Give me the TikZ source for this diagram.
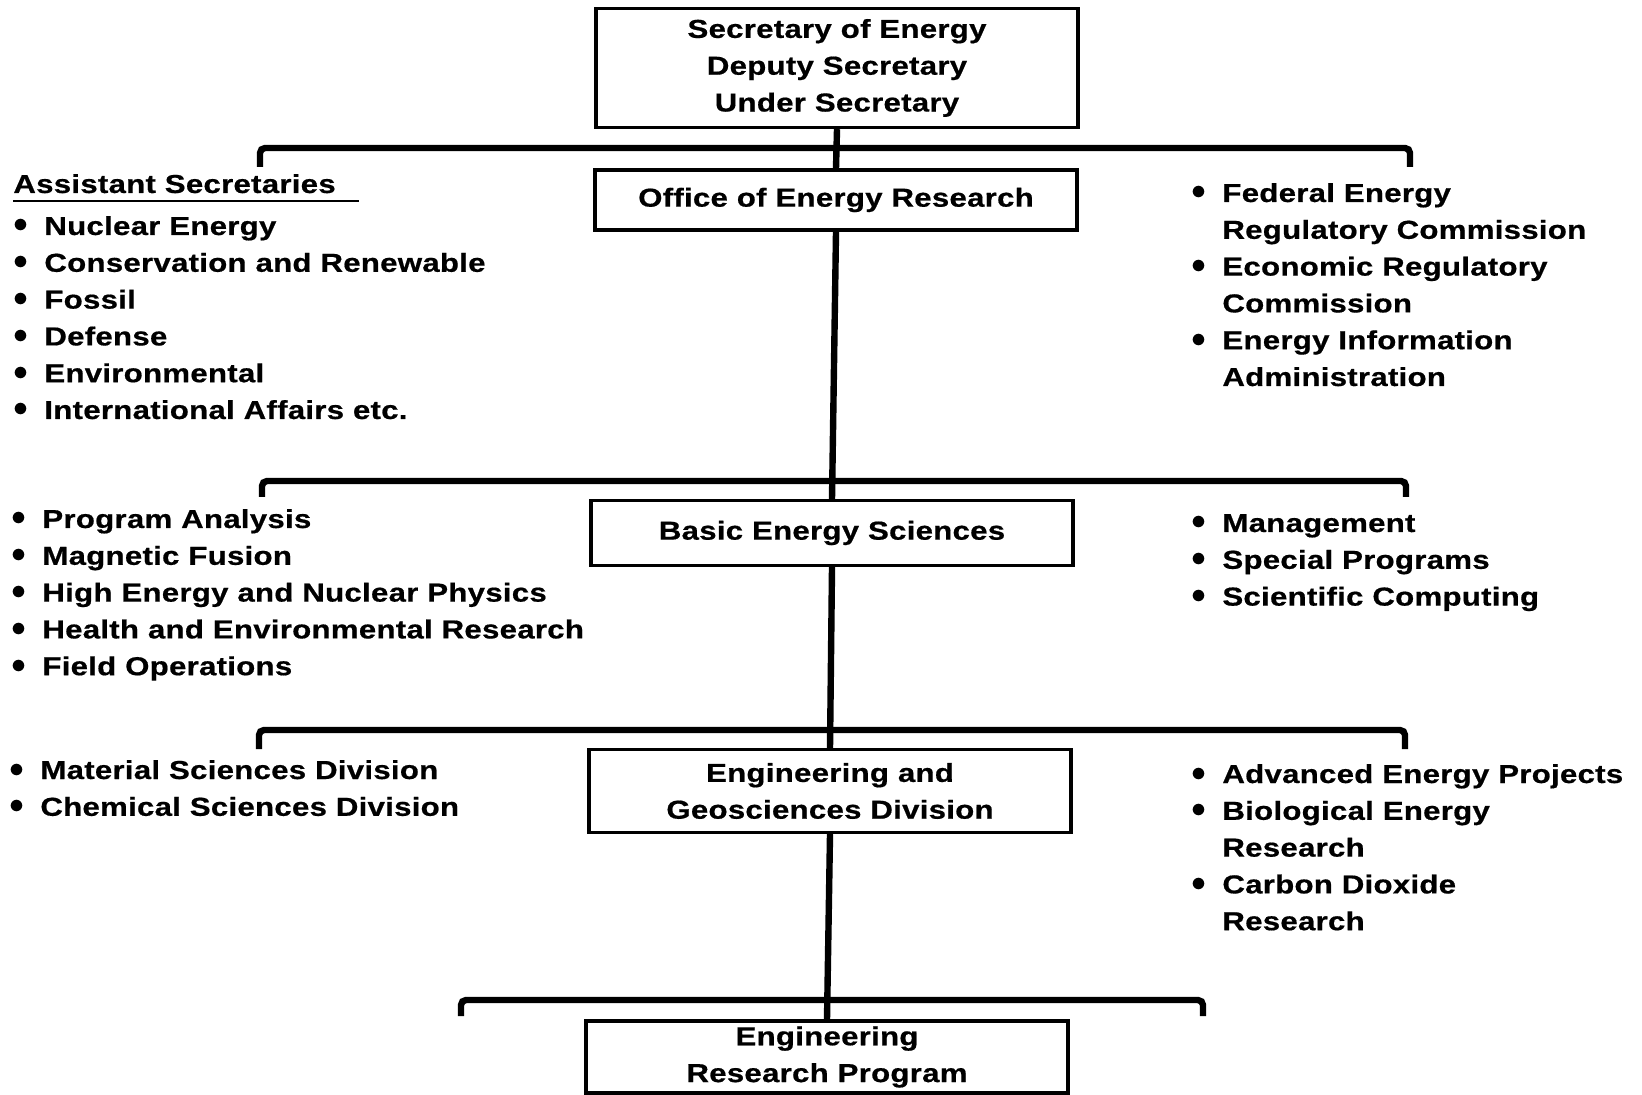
\documentclass[tikz,border=0pt]{standalone}
\usepackage{fontspec}
\setmainfont{Liberation Sans}[FakeStretch=1.2,LetterSpace=1,FakeBold=0.6]
\usepackage{tikz}
\usetikzlibrary{positioning}

% bullet and the indent of a wrapped line
\newcommand{\blt}{\makebox[15.5pt][l]{\raisebox{1pt}{\scalebox{1.25}{$\bullet$}}}}
\newcommand{\bltskip}{\hspace*{15.5pt}}

\begin{document}
\begin{tikzpicture}[
  x=0.5pt, y=-0.5pt,
  font=\bfseries\fontsize{13pt}{18.4pt}\selectfont,
  box/.style={rectangle, draw, line width=1.7pt, minimum width=241pt, inner sep=0pt, align=center},
  link/.style={line width=3.2pt},
  bar/.style={line width=3.2pt, rounded corners=2.5pt},
  list/.style={anchor=base west, inner sep=0pt}
]
  \useasboundingbox (0,0) rectangle (1642,1095);

  % the chain of offices
  \node[box, minimum height=59.5pt] (sec) at (837,68) {Secretary of Energy\\Deputy Secretary\\Under Secretary};
  \node[box, minimum height=30pt] (oer) at (836,200) {Office of Energy Research};
  \node[box, minimum height=32.5pt] (bes) at (832,533) {Basic Energy Sciences};
  \node[box, minimum height=41.5pt] (egd) at (830,791) {Engineering and\\Geosciences Division};
  \node[box, minimum height=36pt] (erp) at (827,1057) {Engineering\\Research Program};

  \draw[link] (sec.south) -- (oer.north);
  \draw[link] (oer.south) -- (bes.north);
  \draw[link] (bes.south) -- (egd.north);
  \draw[link] (egd.south) -- (erp.north);

  % brackets across each level
  \coordinate (b1l) at (260,167);  \coordinate (b1r) at (1410,167);
  \coordinate (b2l) at (262,497);  \coordinate (b2r) at (1406,497);
  \coordinate (b3l) at (259,749);  \coordinate (b3r) at (1405,749);
  \coordinate (b4l) at (461,1016); \coordinate (b4r) at (1203,1016);
  \draw[bar] (b1l) -- ++(0,-19) -| (b1r);
  \draw[bar] (b2l) -- ++(0,-16) -| (b2r);
  \draw[bar] (b3l) -- ++(0,-19) -| (b3r);
  \draw[bar] (b4l) -- ++(0,-16) -| (b4r);

  % level 1
  \node[list] (asst) at (13,193) {Assistant Secretaries};
  \draw[line width=1.2pt] ([yshift=-4pt]asst.base west) -- ++(346,0);
  \node[list] (asstlist) at (13,235) {\begin{tabular}[t]{@{}l@{}}
    \blt Nuclear Energy\\
    \blt Conservation and Renewable\\
    \blt Fossil\\
    \blt Defense\\
    \blt Environmental\\
    \blt International Affairs etc.
  \end{tabular}};
  \node[list] (comm) at (1191,202) {\begin{tabular}[t]{@{}l@{}}
    \blt Federal Energy\\
    \bltskip Regulatory Commission\\
    \blt Economic Regulatory\\
    \bltskip Commission\\
    \blt Energy Information\\
    \bltskip Administration
  \end{tabular}};

  % level 2
  \node[list] (progs) at (11,528) {\begin{tabular}[t]{@{}l@{}}
    \blt Program Analysis\\
    \blt Magnetic Fusion\\
    \blt High Energy and Nuclear Physics\\
    \blt Health and Environmental Research\\
    \blt Field Operations
  \end{tabular}};
  \node[list] (mgmt) at (1191,532) {\begin{tabular}[t]{@{}l@{}}
    \blt Management\\
    \blt Special Programs\\
    \blt Scientific Computing
  \end{tabular}};

  % level 3
  \node[list] (divs) at (9,779) {\begin{tabular}[t]{@{}l@{}}
    \blt Material Sciences Division\\
    \blt Chemical Sciences Division
  \end{tabular}};
  \node[list] (proj) at (1191,783) {\begin{tabular}[t]{@{}l@{}}
    \blt Advanced Energy Projects\\
    \blt Biological Energy\\
    \bltskip Research\\
    \blt Carbon Dioxide\\
    \bltskip Research
  \end{tabular}};
\end{tikzpicture}
\end{document}
